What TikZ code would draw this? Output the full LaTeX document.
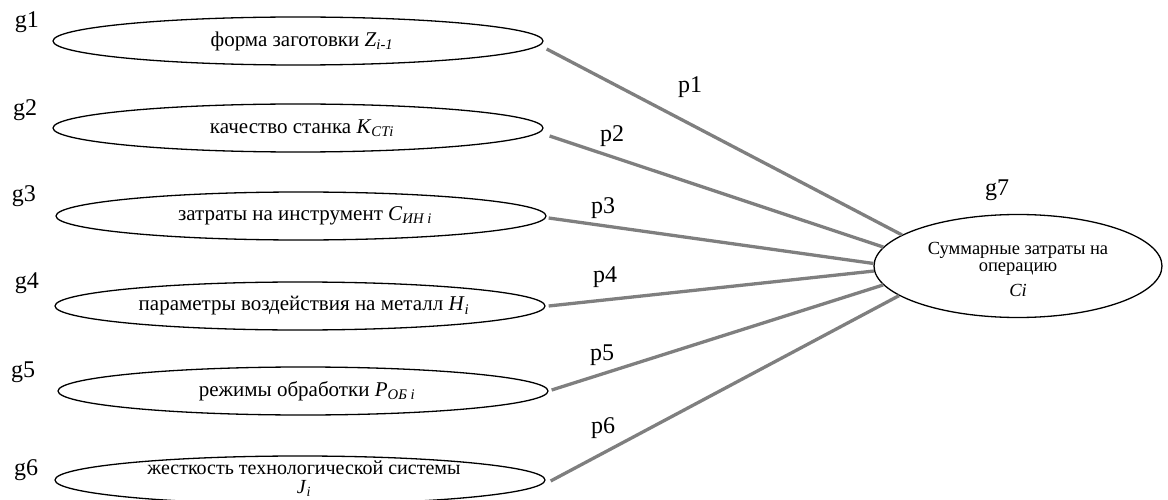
\documentclass[tikz,border=0pt]{standalone}
\usepackage{fontspec}
\setmainfont{Liberation Serif}
\usetikzlibrary{shapes.geometric}
\tikzset{
  factor/.style={draw, ellipse, line width=1.3pt, minimum width=490pt, minimum height=48pt,
    inner sep=0pt},
  factortext/.style={inner sep=0pt, align=center, font=\fontsize{21}{21}\selectfont},
  total/.style={draw, ellipse, line width=1.3pt, minimum width=288pt, minimum height=103pt,
    inner sep=0pt},
  totaltext/.style={inner sep=0pt, align=center, font=\fontsize{18.5}{17}\selectfont},
  tag/.style={font=\fontsize{24}{24}\selectfont, inner sep=0pt},
  link/.style={draw={rgb,255:red,127;green,127;blue,127}, line width=3.3pt}
}
\newcommand{\iv}[1]{\textit{#1}}
\begin{document}
\begin{tikzpicture}[x=1pt, y=-1pt]
\useasboundingbox (0,0) rectangle (1168,500);

% factor ellipses and their captions
\node[factor] (g1) at (298,41)  {};
\node[factor] (g2) at (298,128) {};
\node[factor] (g3) at (301,216) {};
\node[factor] (g4) at (300,306) {};
\node[factor] (g5) at (303,391) {};
\node[factor] (g6) at (300,480) {};
\node[factortext] (c1) at ([xshift=4pt]g1) {форма заготовки \iv{Z}\textsubscript{\iv{i-1}}};
\node[factortext] (c2) at ([xshift=4pt]g2) {качество станка \iv{K}\textsubscript{\iv{СТi}}};
\node[factortext] (c3) at ([xshift=4pt]g3) {затраты на инструмент \iv{С}\textsubscript{\iv{ИН i}}};
\node[factortext] (c4) at ([xshift=4pt]g4) {параметры воздействия на металл \iv{H}\textsubscript{\iv{i}}};
\node[factortext] (c5) at ([xshift=4pt]g5) {режимы обработки \iv{P}\textsubscript{\iv{ОБ i}}};
\node[factortext, font=\fontsize{20}{19}\selectfont] (c6) at ([xshift=4pt,yshift=1pt]g6)
  {жесткость технологической системы\\ \iv{J}\textsubscript{\iv{i}}};

% resulting cost ellipse
\node[total] (g7) at (1018,266) {};
\node[totaltext] (c7) at ([yshift=-3pt]g7) {Суммарные затраты на\\ операцию\\[8pt] \iv{Ci}};

% vertex labels
\node[tag] (t1) at (27,22)   {g1};
\node[tag] (t2) at (25,110)  {g2};
\node[tag] (t3) at (24,196)  {g3};
\node[tag] (t4) at (27,283)  {g4};
\node[tag] (t5) at (23,372)  {g5};
\node[tag] (t6) at (26,470)  {g6};
\node[tag] (t7) at (997,190) {g7};

% weights
\node[tag] (p1) at (690,87)  {p1};
\node[tag] (p2) at (612,136) {p2};
\node[tag] (p3) at (603,208) {p3};
\node[tag] (p4) at (605,277) {p4};
\node[tag] (p5) at (602,355) {p5};
\node[tag] (p6) at (603,428) {p6};

% connectors into the total cost
\draw[link] ([shift={(3,8)}]g1.east) -- (g7.165.5);
\draw[link] ([shift={(6,8)}]g2.east) -- (g7.172.6);
\draw[link] ([shift={(2,2)}]g3.east) -- (g7.179.6);
\draw[link] ([shift={(3,0)}]g4.east) -- (g7.182.4);
\draw[link] ([shift={(3,-1)}]g5.east) -- (g7.188);
\draw[link] ([shift={(5,1)}]g6.east) -- (g7.194.7);
\end{tikzpicture}
\end{document}
